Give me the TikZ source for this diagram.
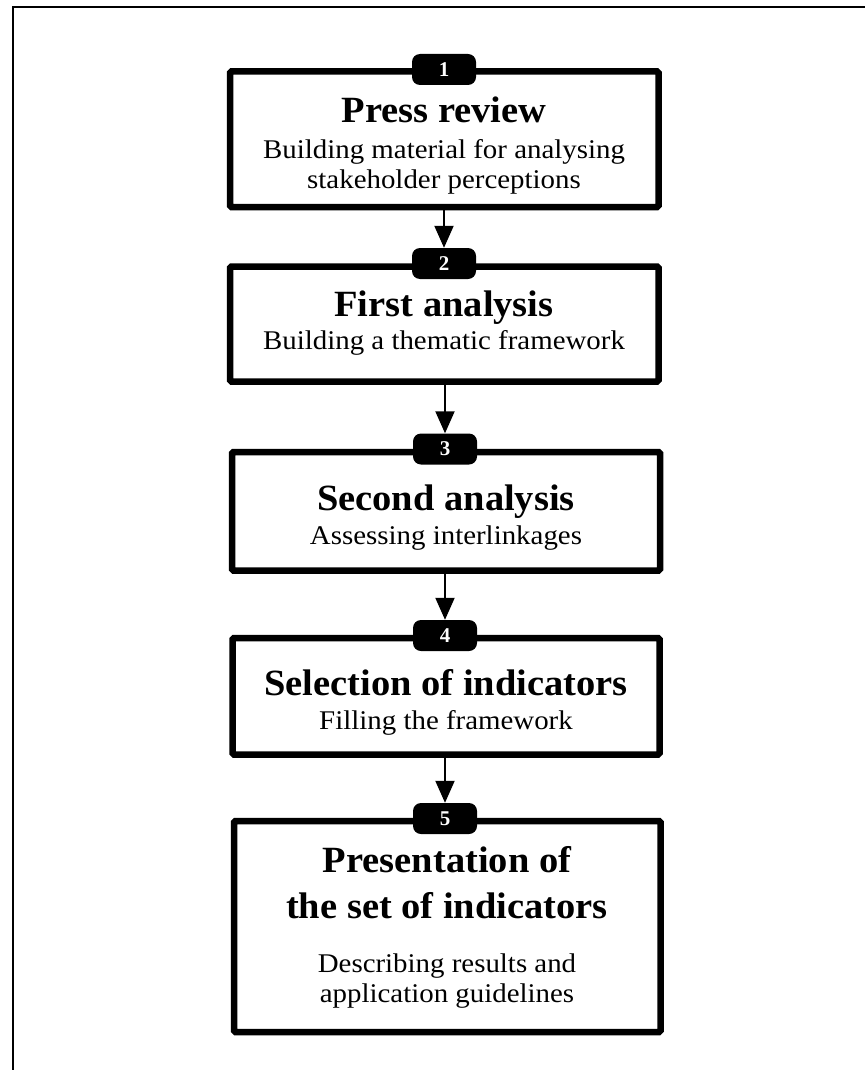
\documentclass[tikz,border=0pt]{standalone}
\usepackage{fontspec}
\setmainfont{Liberation Serif}
\usetikzlibrary{arrows.meta}
\tikzset{
  stepbox/.style={draw=black, line width=6.5pt, rounded corners=1.5pt, inner sep=0pt, fill=white},
  badge/.style={fill=black, rounded corners=8pt, minimum width=64pt, minimum height=31pt, inner sep=0pt,
    text=white, font=\fontsize{21}{22}\selectfont\bfseries},
  ttl/.style={anchor=base, inner sep=0pt, font=\fontsize{37}{40}\selectfont\bfseries, xscale=1.04, transform shape},
  sub/.style={anchor=base, inner sep=0pt, font=\fontsize{27}{30}\selectfont, xscale=1.07, transform shape},
  arr/.style={line width=2pt, -{Triangle[length=22pt,width=19pt]}},
}
\begin{document}
\begin{tikzpicture}[x=1pt,y=1pt]
\useasboundingbox (0,0) rectangle (865,-1070);
\draw[line width=1.3pt] (13,-1070) -- (13,-7) -- (865,-7);
% boxes
\node[stepbox, minimum width=428.5pt, minimum height=135.5pt] (b1) at (444.25,-139.25) {};
\node[stepbox, minimum width=428.5pt, minimum height=115pt] (b2) at (444.25,-324) {};
\node[stepbox, minimum width=428pt, minimum height=118.5pt] (b3) at (446,-511.25) {};
\node[stepbox, minimum width=427pt, minimum height=116.5pt] (b4) at (446,-696.25) {};
\node[stepbox, minimum width=426.5pt, minimum height=211pt] (b5) at (447.25,-926.5) {};
% texts
\node[ttl] (t1) at (444,-123) {Press review};
\node[sub] (s1a) at (444,-158) {Building material for analysing};
\node[sub] (s1b) at (444,-188) {stakeholder perceptions};
\node[ttl] (t2) at (444,-316.7) {First analysis};
\node[sub] (s2a) at (444,-349) {Building a thematic framework};
\node[ttl] (t3) at (446,-510) {Second analysis};
\node[sub] (s3a) at (446,-544) {Assessing interlinkages};
\node[ttl] (t4) at (446,-695) {Selection of indicators};
\node[sub] (s4a) at (446,-729) {Filling the framework};
\node[ttl] (t5a) at (447,-872) {Presentation of};
\node[ttl] (t5b) at (447,-918) {the set of indicators};
\node[sub] (s5a) at (447,-972) {Describing results and};
\node[sub] (s5b) at (447,-1002) {application guidelines};
% badges positions
\coordinate (p1) at (444,-69.5);
\coordinate (p2) at (444,-263.5);
\coordinate (p3) at (445,-449);
\coordinate (p4) at (445,-635.5);
\coordinate (p5) at (445,-818.5);
\node[badge] (n1) at (p1) {1};
\node[badge] (n2) at (p2) {2};
\node[badge] (n3) at (p3) {3};
\node[badge] (n4) at (p4) {4};
\node[badge] (n5) at (p5) {5};
% arrows
\draw[arr] (b1.south -| n2.north) -- (n2.north);
\draw[arr] (b2.south -| n3.north) -- (n3.north);
\draw[arr] (b3.south -| n4.north) -- (n4.north);
\draw[arr] (b4.south -| n5.north) -- (n5.north);
\end{tikzpicture}
\end{document}
